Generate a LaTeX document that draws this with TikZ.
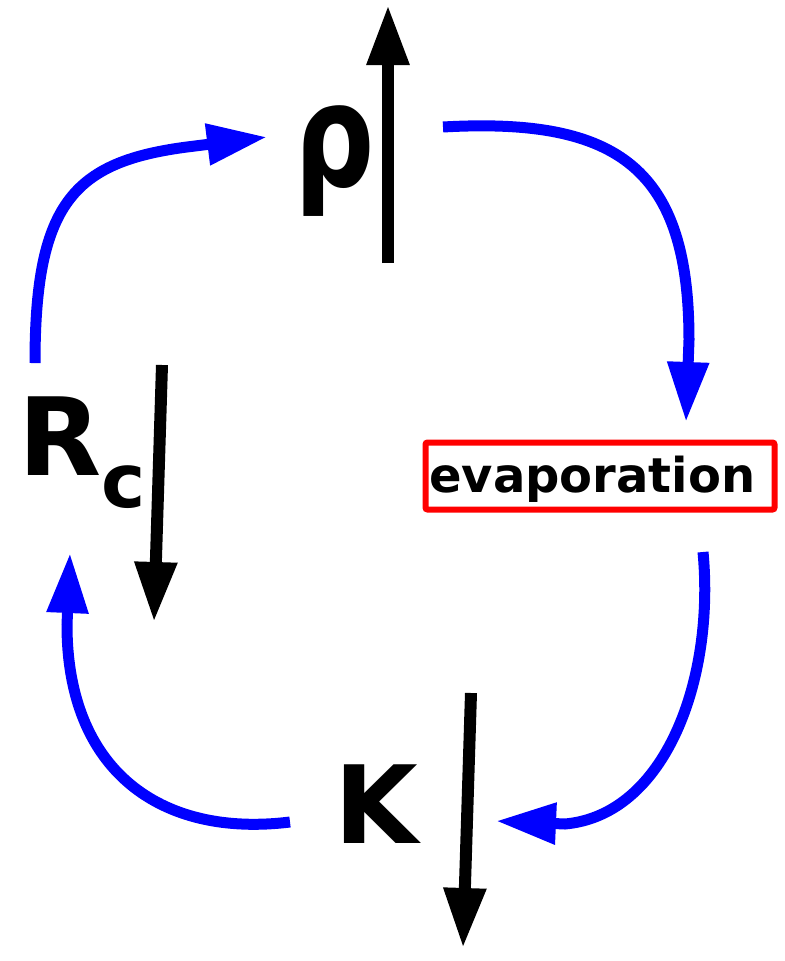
\documentclass[tikz,border=0pt]{standalone}
\usepackage{fontspec}
\setmainfont{DejaVu Sans}
\usetikzlibrary{arrows.meta}
\definecolor{flowblue}{RGB}{0,0,255}
\definecolor{boxred}{RGB}{255,0,0}
\begin{document}
\begin{tikzpicture}[x=0.75pt,y=-0.75pt,
  blueflow/.style={draw=flowblue, line width=8.25pt, -{Triangle[length=45pt,width=29.5pt]}},
  trend/.style={draw=black, line width=9pt, -{Triangle[length=45pt,width=30pt]}},
  lbl/.style={inner sep=0pt, anchor=base west, font=\bfseries\fontsize{81}{81}\selectfont}]
\useasboundingbox (0,0) rectangle (785,961);
% labels
\node[inner sep=0pt, anchor=base west, font=\bfseries\fontsize{108}{108}\selectfont] (rho) at (294,186) {\scalebox{0.78}[1]{ρ}};
\node[lbl] (K) at (334,843) {K};
\node[lbl] (Rc) at (18,475) {R\raisebox{-24pt}{\fontsize{56}{56}\selectfont c}};
\node[draw=boxred, line width=4.5pt, rounded corners=1.5pt, minimum width=261.75pt, minimum height=50.25pt, inner sep=0pt] (evbox) at (600,476) {};
\node[inner sep=0pt, anchor=base west, font=\bfseries\fontsize{36}{36}\selectfont] (evtext) at (429,492) {evaporation};
% trend arrows
\coordinate (rhoT0) at (388,263); \coordinate (rhoT1) at (388,5);
\coordinate (rcT0) at (162,365); \coordinate (rcT1) at (154,622);
\coordinate (kT0) at (471,693); \coordinate (kT1) at (463,948);
\draw[trend] (rhoT0) -- (rhoT1);
\draw[trend] (rcT0) -- (rcT1);
\draw[trend] (kT0) -- (kT1);
% feedback loop
\coordinate (f1s) at (35,363); \coordinate (f1e) at (267,137);
\coordinate (f2s) at (443,127); \coordinate (f2e) at (686,422);
\coordinate (f3s) at (703,552); \coordinate (f3e) at (496,821);
\coordinate (f4s) at (290,822); \coordinate (f4e) at (70,553);
\draw[blueflow] (f1s) .. controls (35,200) and (75,160) .. (195,146) -- (f1e);
\draw[blueflow] (f2s) .. controls (620,117) and (689,170) .. (689,340) -- (f2e);
\draw[blueflow] (f3s) .. controls (715,680) and (665,815) .. (565,824) -- (f3e);
\draw[blueflow] (f4s) .. controls (160,838) and (67,770) .. (67,625) -- (f4e);
\end{tikzpicture}
\end{document}
